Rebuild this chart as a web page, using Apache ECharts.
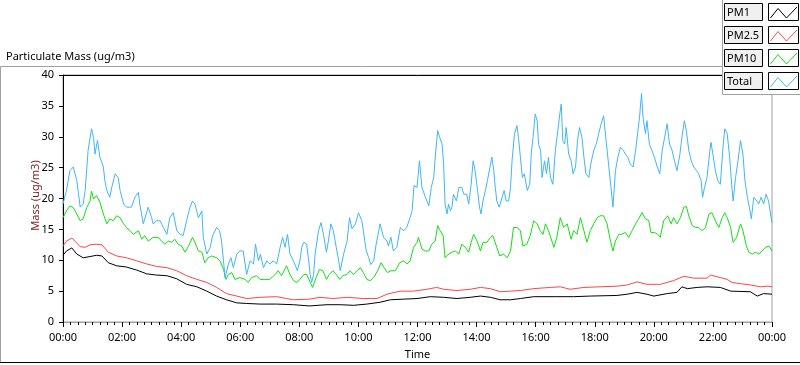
<!DOCTYPE html>
<html><head><meta charset="utf-8">
<script src="https://cdn.jsdelivr.net/npm/echarts@6/dist/echarts.min.js"></script>
<style>html,body{margin:0;padding:0;background:#fff}#c{width:800px;height:365px}</style>
</head><body><div id="c"></div>
<script>
// ---- data (time in minutes since 00:00, values in ug/m3) ----
const seriesNames = ['PM1', 'PM2.5', 'PM10', 'Total'];
const seriesColors = ['#000000', '#ff4444', '#12e012', '#40b6f6'];

const timePM1 = [0,7,18,28,41,55,68,79,92,109,129,150,170,190,211,231,251,272,292,312,332,353,373,400,434,468,500,536,563,590,617,644,665,692,719,746,773,800,827,848,868,888,909,929,956,1003,1037,1071,1125,1146,1166,1186,1200,1227,1247,1257,1268,1288,1308,1335,1356,1396,1410,1423,1440];
const valPM1 = [10.8,11.5,12,11,10.4,10.6,10.8,10.7,9.6,9.1,8.9,8.4,7.8,7.6,7.5,7,6.1,5.7,5,4.2,3.6,3.1,3,2.9,2.9,2.8,2.6,2.8,2.8,2.7,2.9,3.2,3.6,3.7,3.8,4.1,4,3.8,4,4.2,4,3.6,3.6,3.8,4.1,4.1,4.1,4.2,4.3,4.5,4.8,4.5,4.2,4.6,4.8,5.7,5.4,5.6,5.7,5.6,5,4.9,4.2,4.6,4.5];

const timePM25 = [0,7,18,24,35,45,55,65,79,92,109,129,150,170,190,211,231,251,272,292,312,332,353,373,400,434,454,468,500,522,549,577,610,638,658,685,712,739,759,773,800,827,848,868,888,909,929,956,990,1010,1030,1058,1091,1125,1146,1166,1186,1213,1240,1261,1281,1308,1315,1335,1349,1359,1376,1396,1417,1430,1440];
const valPM25 = [12.3,13.1,13.6,13.1,12.2,12.1,12.5,12.6,12.5,11.3,10.7,10.4,9.9,9.4,9,8.8,8.3,7.5,6.9,6.4,5.6,4.6,4.2,3.8,4,4.1,3.8,3.6,3.7,4,3.8,4,3.8,3.8,4.5,5,5,5.3,5.6,5.3,5.1,5.3,5.6,5.4,4.9,5,5.1,5.4,5.6,5.7,5.3,5.6,5.7,5.8,6,6.5,6.1,6.1,6.7,7.4,7.1,7.1,7.6,7.2,6.9,6.4,6.2,6,5.7,5.8,5.7];

const timePM10 = [0,7,14,21,28,35,41,48,55,58,62,68,72,75,82,89,95,102,109,116,123,129,136,143,153,160,166,173,183,194,200,207,214,221,227,234,241,248,255,263,268,275,282,288,295,302,312,319,326,331,336,343,349,359,370,376,383,393,400,410,420,431,437,444,454,461,468,475,481,489,495,502,507,514,521,528,535,541,548,555,562,568,577,583,590,597,604,610,617,624,631,639,646,652,659,666,675,684,692,699,705,712,719,722,729,736,743,749,756,761,766,772,776,783,790,797,804,810,817,824,829,834,841,848,853,861,868,873,881,887,895,902,909,915,922,929,934,942,949,956,963,969,975,980,986,993,997,1003,1010,1017,1024,1032,1037,1044,1051,1058,1064,1071,1078,1085,1091,1098,1105,1112,1117,1122,1129,1135,1142,1149,1156,1163,1169,1176,1183,1190,1194,1201,1208,1213,1220,1228,1235,1240,1247,1254,1261,1266,1271,1278,1285,1291,1298,1305,1312,1318,1325,1332,1339,1344,1349,1356,1361,1368,1376,1381,1388,1393,1400,1406,1413,1420,1427,1434,1440];
const valPM10 = [16.9,18,18.8,18.5,17.5,16.4,16.7,18.5,19.6,21.2,19.9,20.5,20.5,19.4,17.5,15.9,16.7,16.4,17.2,16.9,15.9,15.3,14.8,14.2,14.8,13.4,14,13.1,13.7,13.7,13.1,12.6,13.1,12.9,13.4,12.6,12.3,11.3,12.3,13.7,12.9,11.5,11.3,9.6,10.4,10.7,10.4,9.9,8.5,6.9,7.7,8,6.9,7.2,6.9,6.4,7.2,7.5,6.9,6.9,6.9,7.7,8.3,7.5,9.1,7.7,6.7,6.4,6.9,7.7,7.7,6.4,5.6,7.2,8.5,8.3,6.9,7.7,8.3,7.7,6.9,7.5,7.7,8.3,7.7,8.3,8.8,8,6.9,6.7,7.2,8.3,9.6,8.8,8,8.3,8.3,9.6,9.9,9.4,9.9,12.1,12.9,13.7,11.8,11.5,11.5,12.6,13.1,15.6,14.8,14,10.4,11,11.3,11.5,11,12.6,12.1,11.3,12.9,14.2,13.1,11.5,12.9,12.9,13.7,14,12.1,10.7,11,10.4,11.5,15.3,15.3,14.8,12.3,12.6,14,16.4,15.9,14.8,14.2,15.9,14.8,13.1,12.1,13.7,16.9,15.3,15.9,13.4,14.8,14.2,16.9,14.8,12.9,14.8,15.9,16.9,17.2,17.2,15.9,13.1,11.5,13.1,14.2,14.2,14.5,13.7,14.8,15.9,16.7,17.7,16.7,16.4,14.5,14.5,14.2,13.7,16.4,17.2,15.9,16.9,15.9,16.9,18.6,18.7,17.2,15.6,15.3,15.3,14.8,15.3,17.5,17.7,16.4,15.3,16.9,17.7,16.9,15.3,12.9,13.7,15.9,14.8,12.3,11.3,11,11.3,11,11.5,12.1,12.3,11.5];

const timeTotal = [0,7,14,21,28,35,41,45,51,58,62,65,70,75,82,85,89,95,99,106,112,116,123,129,139,146,153,156,163,169,173,180,183,190,197,204,211,217,224,231,238,244,251,258,263,268,275,282,285,292,299,304,312,318,322,326,329,336,341,346,353,359,366,373,380,387,391,397,401,407,414,420,427,434,441,446,451,456,461,468,476,481,485,489,495,499,502,505,509,512,519,524,529,535,539,544,549,555,560,563,570,577,582,587,594,600,607,610,616,621,625,631,636,644,651,658,661,666,671,678,685,692,698,705,709,713,719,724,729,736,743,748,753,756,761,765,770,773,776,780,783,787,790,793,799,804,810,814,820,824,829,833,837,842,846,849,853,858,862,868,871,875,878,881,886,892,896,900,905,909,912,917,922,925,929,933,937,943,948,951,956,959,963,966,970,973,978,982,986,990,995,1000,1005,1009,1012,1015,1019,1022,1027,1032,1036,1041,1045,1049,1054,1058,1062,1068,1072,1078,1083,1088,1093,1098,1103,1108,1113,1117,1122,1127,1132,1138,1142,1147,1152,1158,1163,1167,1171,1175,1178,1183,1186,1191,1196,1201,1207,1212,1217,1222,1227,1232,1237,1242,1247,1253,1257,1262,1266,1271,1276,1281,1287,1291,1296,1299,1303,1308,1313,1316,1320,1325,1330,1335,1341,1344,1349,1354,1358,1361,1366,1371,1376,1381,1385,1390,1394,1398,1403,1409,1413,1418,1423,1428,1433,1437,1440];
const valTotal = [19.1,21.3,24.5,25.1,22.9,18.6,19.1,21.3,27.8,31.3,29.9,27.2,29.4,26.7,25.1,22.9,21.3,20.2,21.8,24,23.4,21.3,19.1,18.6,18.6,20.2,21,19.1,15.9,17.5,18.6,16.9,15.9,16.4,16.4,15.3,14.2,16.9,17.7,14.8,14.2,14,16.4,18.6,19.6,19.1,16.9,18,13.7,11,12.1,14,15.3,14.8,13.1,9.9,7.2,9.4,10.4,8.8,11,11.5,11.5,7.7,9.9,9.4,12.6,9.9,11,8.8,9.9,9.4,9.9,9.4,12.1,13.7,12.1,14.2,11,9.9,8.3,9.9,12.1,12.9,12.6,9.9,7.7,6.4,7.7,11,14.8,16.1,14.2,11.3,13.1,15.9,14.8,12.1,9.9,8.3,11,13.1,16.9,15.1,15.9,17.7,16.4,14.8,11.5,10.4,9.3,9.9,12.6,15.9,13.7,13.1,12.3,13.7,11.5,12.1,15.3,14.8,15.3,16.9,18,22.1,21.8,26.1,21.8,20.2,18.8,21.8,23.4,26.7,31,29.9,28.8,25.6,19.1,17.5,19.1,18,18.6,20.7,19.6,21.8,21.8,20.7,20.7,19.1,22.3,26.1,24.5,21.3,18.6,17.5,19.6,21.3,22.9,25.4,26.7,24.5,21.8,19.6,18.6,20.2,21.3,19.6,19.6,21.8,26.1,30.5,31.8,29.9,26.7,23.4,24,21.3,22.3,27.2,31,33.7,32.6,28.8,27.8,23.4,26.1,24,26.7,23.4,22.3,27.8,31,33.7,35.3,29.4,28.8,31.5,27.2,26.1,24,25.1,29.4,31.5,29.9,26.7,24,23.4,25.6,27.8,28.8,30.5,32.1,33.4,29.4,25.6,21.8,18.6,24.5,26.7,28.3,27.8,27.2,26.7,25.6,25.1,27.8,30.5,33.2,37,33.2,30.5,32.6,28.8,27.8,26.7,25.1,24,27.8,29.9,32.1,28.8,27.8,26.1,24.5,27.2,29.9,32.6,31,27.8,26.1,25.1,24.5,24,22.9,20.2,21.8,23.4,27.2,29.1,27.2,24.5,22.9,22.3,28.8,31.3,30.5,26.7,22.3,19.6,23.4,26.1,29.4,27.2,22.9,20.2,18.6,16.7,20.2,19.6,19.1,20.2,19.1,20.7,19.6,17.5,16.1];

const seriesTimes = [timePM1, timePM25, timePM10, timeTotal];
const seriesValues = [valPM1, valPM25, valPM10, valTotal];

const titleText = 'Particulate Mass (ug/m3)';
const yAxisName = 'Mass (ug/m3)';
const xAxisName = 'Time';

// ---- chart ----
const FONT = 'Noto Sans';
const FS = 11;
const fmtTime = m => {
  const h = Math.floor(m / 60) % 24, mm = Math.round(m % 60);
  return String(h).padStart(2, '0') + ':' + String(mm).padStart(2, '0');
};

const chart = echarts.init(document.getElementById('c'), null, {renderer: 'canvas'});

const legendEls = [];
legendEls.push({type: 'rect', z: 50, shape: {x: 722.5, y: -1, width: 79, height: 95.5},
  style: {fill: '#ffffff', stroke: '#a0a0a0', lineWidth: 1}});
seriesNames.forEach((name, i) => {
  const y0 = 3.5 + i * 23;
  legendEls.push({type: 'rect', z: 51, shape: {x: 724.5, y: y0, width: 38, height: 17},
    style: {fill: '#f0f0f0', stroke: '#000', lineWidth: 1}});
  legendEls.push({type: 'text', z: 52, x: 727, y: y0 + 9,
    style: {text: name, fill: '#000', font: FS + 'px "' + FONT + '"', verticalAlign: 'middle', align: 'left'}});
  legendEls.push({type: 'rect', z: 51, shape: {x: 768.5, y: y0, width: 30, height: 17},
    style: {fill: '#ffffff', stroke: '#000', lineWidth: 1}});
  legendEls.push({type: 'polyline', z: 52,
    shape: {points: [[770.5, y0 + 14.5], [778, y0 + 5], [786.5, y0 + 14.5], [797, y0 + 3.5]]},
    style: {stroke: seriesColors[i], lineWidth: 1, fill: null}});
});

const frameEls = [
  {type: 'polyline', z: 40, shape: {points: [[0.5, 363], [0.5, 66.5], [722, 66.5]]},
    style: {stroke: '#a0a0a0', lineWidth: 1, fill: null}},
  {type: 'line', z: 40, shape: {x1: 0, y1: 362.5, x2: 800, y2: 362.5},
    style: {stroke: '#000', lineWidth: 1}}
];

chart.setOption({
  animation: false,
  backgroundColor: '#ffffff',
  textStyle: {fontFamily: FONT},
  title: {text: titleText, left: 1, top: 46,
    textStyle: {fontSize: FS, fontWeight: 'normal', color: '#000', fontFamily: FONT}},
  grid: {left: 63, right: 28, top: 75, bottom: 43, show: true,
    borderColor: '#a0a0a0', borderWidth: 1, backgroundColor: '#ffffff'},
  xAxis: [{
    type: 'value', min: 0, max: 1440, interval: 120, position: 'bottom',
    name: xAxisName, nameLocation: 'middle', nameGap: 27, nameMoveOverlap: false,
    nameTextStyle: {color: '#000', fontSize: FS, fontFamily: FONT},
    axisLine: {show: true, lineStyle: {color: '#a0a0a0', width: 1}},
    axisTick: {show: true, length: 5, lineStyle: {color: '#000'}},
    minorTick: {show: true, splitNumber: 8, length: 3, lineStyle: {color: '#000'}},
    axisLabel: {formatter: fmtTime, color: '#000', fontSize: FS, margin: 10, fontFamily: FONT},
    splitLine: {show: false}
  }, {
    type: 'value', min: 0, max: 1440, position: 'top',
    axisLine: {show: true, lineStyle: {color: '#000', width: 1}},
    axisTick: {show: false}, axisLabel: {show: false}, splitLine: {show: false}
  }],
  yAxis: {
    type: 'value', min: 0, max: 40, interval: 5,
    name: yAxisName, nameLocation: 'middle', nameGap: 22, nameRotate: 90, nameMoveOverlap: false,
    nameTextStyle: {color: '#7a1c1c', fontSize: FS, fontFamily: FONT, padding: [0, 0, 0, 6]},
    axisLine: {show: true, lineStyle: {color: '#000', width: 1}},
    axisTick: {show: true, length: 4, lineStyle: {color: '#000'}},
    axisLabel: {color: '#000', fontSize: FS, margin: 9, fontFamily: FONT},
    splitLine: {show: false}
  },
  graphic: frameEls.concat(legendEls),
  series: seriesNames.map((name, i) => ({
    name, type: 'line', xAxisIndex: 0, showSymbol: false, symbol: 'none',
    lineStyle: {color: seriesColors[i], width: 1},
    itemStyle: {color: seriesColors[i]},
    z: 2 + i,
    data: seriesTimes[i].map((t, k) => [t, seriesValues[i][k]])
  }))
});
</script>
</body></html>
